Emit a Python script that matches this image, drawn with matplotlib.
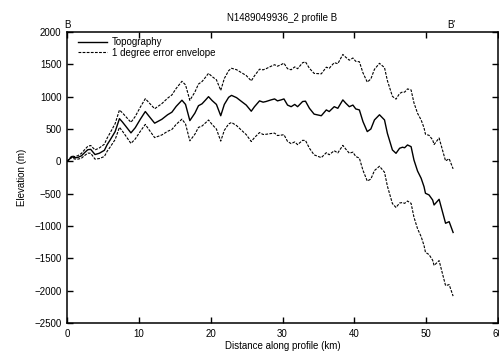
import matplotlib
matplotlib.use("Agg")
import matplotlib.pyplot as plt

plt.rcParams['font.family'] = ['Liberation Sans', 'DejaVu Sans']

# distance along profile (km)
distance = [0.0, 0.3, 0.7, 1.0, 1.5, 2.0, 2.5, 2.9, 3.3, 3.9, 4.5, 5.2, 5.6, 6.0,
            6.7, 7.3, 7.7, 8.2, 8.9, 9.5, 10.2, 10.9, 11.4, 12.2, 13.2, 14.0,
            14.6, 15.2, 16.0, 16.5, 17.1, 17.8, 18.3, 18.8, 19.3, 19.7, 20.2,
            20.8, 21.4, 21.9, 22.5, 22.9, 23.6, 24.3, 24.95, 25.65, 26.1, 26.8,
            27.3, 27.7, 28.4, 28.9, 29.3, 29.8, 30.2, 30.7, 31.2, 31.7, 32.1,
            32.8, 33.2, 33.75, 34.4, 35.4, 36.1, 36.5, 37.2, 37.7, 38.4, 38.8,
            39.3, 39.8, 40.2, 40.7, 41.2, 41.8, 42.3, 42.8, 43.5, 44.2, 44.6,
            45.3, 45.8, 46.3, 46.7, 47.0, 47.4, 47.9, 48.3, 48.8, 49.3, 49.7,
            49.9, 50.4, 50.9, 51.1, 51.8, 52.2, 52.7, 53.2, 53.75]

# topography elevation (m)
topo = [0, 30, 75, 55, 60, 85, 140, 180, 185, 105, 125, 170, 260, 330,
        460, 660, 610, 540, 440, 520, 650, 770, 700, 590, 650, 720,
        760, 850, 945, 880, 630, 745, 860, 890, 950, 1000, 940,
        880, 705, 880, 990, 1020, 985, 925, 870, 775, 845, 935,
        915, 925, 950, 965, 935, 950, 965, 870, 845, 880, 845,
        925, 930, 820, 730, 705, 795, 770, 845, 820, 950, 900,
        845, 870, 810, 795, 615, 460, 500, 640, 720, 640, 433,
        176, 124, 202, 218, 210, 253, 227, 20, -150, -262, -392,
        -494, -520, -598, -675, -587, -752, -958, -933, -1100]

# upper edge of the 1 degree error envelope (m)
upper = [0, 35, 88, 73, 87, 122, 186, 233, 245, 176, 207, 265, 362, 440,
         583, 794, 751, 690, 603, 694, 837, 969, 909, 813, 892, 976,
         1027, 1128, 1238, 1182, 943, 1071, 1195, 1234, 1303, 1361, 1310,
         1261, 1097, 1281, 1402, 1439, 1417, 1370, 1327, 1244, 1323, 1425,
         1415, 1432, 1470, 1494, 1471, 1495, 1518, 1432, 1416, 1460, 1432,
         1525, 1538, 1438, 1360, 1353, 1456, 1438, 1526, 1510, 1653, 1610,
         1564, 1598, 1546, 1540, 1369, 1225, 1274, 1423, 1516, 1449, 1249,
         1005, 962, 1049, 1073, 1070, 1120, 1104, 904, 743, 640, 518,
         419, 402, 333, 260, 361, 203, 6, 41, -116]

# lower edge of the 1 degree error envelope (m)
lower = [0, 25, 62, 37, 33, 48, 94, 127, 125, 34, 43, 75, 158, 220,
         337, 526, 469, 390, 277, 346, 463, 571, 491, 367, 408, 464,
         493, 572, 652, 578, 317, 419, 525, 546, 597, 639, 570,
         499, 313, 479, 578, 601, 553, 480, 413, 306, 367, 445,
         415, 418, 430, 436, 399, 405, 412, 308, 274, 300, 258,
         325, 322, 202, 100, 57, 134, 102, 164, 130, 247, 190,
         126, 142, 74, 50, -139, -305, -274, -143, -76, -169, -383,
         -653, -714, -645, -637, -650, -614, -650, -864, -1043, -1164, -1302,
         -1407, -1442, -1529, -1610, -1535, -1707, -1922, -1907, -2084]

fig = plt.figure(figsize=(4.99, 3.54), dpi=100)
ax = fig.add_axes([0.1343, 0.0876, 0.8637, 0.822])

ax.plot(distance, topo, color='black', lw=1.0, label='Topography')
ax.plot(distance, upper, color='black', lw=0.8, ls=(0, (2.5, 1.2)),
        label='1 degree error envelope')
ax.plot(distance, lower, color='black', lw=0.8, ls=(0, (2.5, 1.2)))

ax.set_xlim(0, 60)
ax.set_ylim(-2500, 2000)
ax.set_xticks(range(0, 61, 10))
ax.set_yticks(range(-2500, 2001, 500))
ax.tick_params(direction='in', top=True, right=True, length=4, width=1,
               labelsize=7, pad=4)
for s in ax.spines.values():
    s.set_linewidth(1.1)

ax.set_title('N1489049936_2 profile B', fontsize=7, pad=8)
ax.set_xlabel('Distance along profile (km)', fontsize=7, labelpad=2)
ax.set_ylabel('Elevation (m)', fontsize=7, labelpad=5)
ax.text(0, 2030, 'B', fontsize=7, ha='center', va='bottom')
ax.text(53.5, 2030, "B'", fontsize=7, ha='center', va='bottom')

ax.legend(loc='upper left', frameon=False, fontsize=7, handlelength=3.0,
          handletextpad=0.5, borderaxespad=0.25, borderpad=0.3,
          labelspacing=0.05, bbox_to_anchor=(0.012, 1.0))

fig.savefig('out.png', dpi=100)
